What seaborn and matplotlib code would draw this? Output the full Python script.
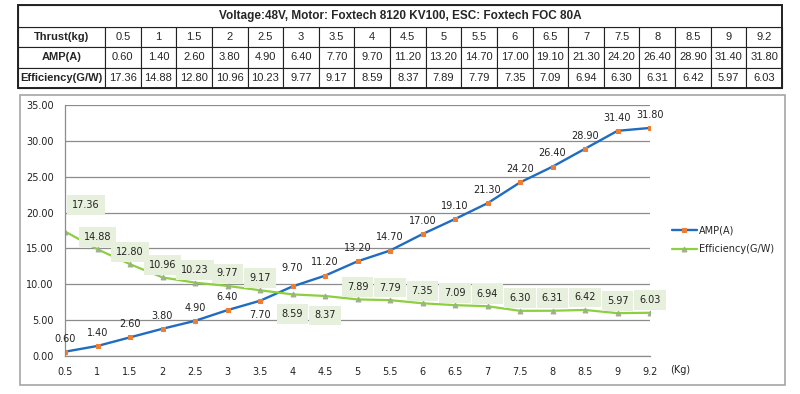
import matplotlib
matplotlib.use("Agg")
import matplotlib.pyplot as plt
import numpy as np
import pandas as pd
import seaborn as sns
from matplotlib.patches import Rectangle


TITLE = "Voltage:48V, Motor: Foxtech 8120 KV100, ESC: Foxtech FOC 80A"
THRUST = ["0.5", "1", "1.5", "2", "2.5", "3", "3.5", "4", "4.5", "5",
          "5.5", "6", "6.5", "7", "7.5", "8", "8.5", "9", "9.2"]
AMP = [0.60, 1.40, 2.60, 3.80, 4.90, 6.40, 7.70, 9.70, 11.20, 13.20,
       14.70, 17.00, 19.10, 21.30, 24.20, 26.40, 28.90, 31.40, 31.80]
EFFICIENCY = [17.36, 14.88, 12.80, 10.96, 10.23, 9.77, 9.17, 8.59, 8.37, 7.89,
              7.79, 7.35, 7.09, 6.94, 6.30, 6.31, 6.42, 5.97, 6.03]
Y_TICKS = [0, 5, 10, 15, 20, 25, 30, 35]

AMP_COLOR = "#1f6cc0"
AMP_MARKER = "#ed7d31"
EFF_COLOR = "#8ccf3f"
EFF_MARKER = "#9db08a"
LABEL_BG = "#e6f0dc"
GRID = "#8c8c8c"

# label offsets in points (dx, dy); anything not listed sits just above its point
AMP_OFFSETS = {"3.5": (0, -10), "4": (0, 13)}
EFF_OFFSETS = {"0.5": (15, 19), "4": (0, -14), "4.5": (0, -14)}


def draw_table(fig):
    ax = fig.add_axes([18 / 800, 1 - 88 / 394, 764 / 800, 83 / 394])
    ax.set_axis_off()
    body_h = 61 / 83
    rows = [
        ["Thrust(kg)"] + THRUST,
        ["AMP(A)"] + [f"{v:.2f}" for v in AMP],
        ["Efficiency(G/W)"] + [f"{v:.2f}" for v in EFFICIENCY],
    ]
    first_w = 87 / 764
    col_w = (1 - first_w) / len(THRUST)
    table = ax.table(cellText=rows, colWidths=[first_w] + [col_w] * len(THRUST),
                     cellLoc="center", bbox=[0, 0, 1, body_h])
    table.auto_set_font_size(False)
    for (r, c), cell in table.get_celld().items():
        cell.set_linewidth(0.8)
        cell.set_edgecolor("#222222")
        cell.get_text().set_fontsize(8)
        cell.get_text().set_family("Liberation Sans")
        if c == 0:
            cell.get_text().set_fontweight("bold")
    ax.add_patch(Rectangle((0, body_h), 1, 1 - body_h, transform=ax.transAxes,
                           facecolor="white", edgecolor="#222222", linewidth=0.8))
    ax.text(0.5, (1 + body_h) / 2, TITLE, transform=ax.transAxes, ha="center", va="center",
            fontsize=8.5, fontweight="bold", family="Liberation Sans")
    ax.add_patch(Rectangle((0, 0), 1, 1, transform=ax.transAxes, fill=False,
                           edgecolor="#222222", linewidth=1.4, clip_on=False))


def main():
    sns.set_theme(style="white")
    plt.rcParams["font.family"] = ["DejaVu Sans"]

    fig = plt.figure(figsize=(8, 3.94), dpi=100)
    fig.patches.append(Rectangle((20 / 800, 1 - 385 / 394), 765 / 800, 290 / 394,
                                 transform=fig.transFigure, fill=False,
                                 edgecolor="#a6a6a6", linewidth=1.2))
    draw_table(fig)

    df = pd.DataFrame({"pos": np.arange(len(THRUST)), "thrust": THRUST,
                       "AMP(A)": AMP, "Efficiency(G/W)": EFFICIENCY})

    ax = fig.add_axes([65 / 800, 1 - 356 / 394, 585 / 800, 251 / 394])
    sns.lineplot(data=df, x="pos", y="AMP(A)", ax=ax, color=AMP_COLOR, linewidth=1.7,
                 marker="s", markersize=3.5, markerfacecolor=AMP_MARKER,
                 markeredgecolor=AMP_MARKER, sort=False, label="AMP(A)")
    sns.lineplot(data=df, x="pos", y="Efficiency(G/W)", ax=ax, color=EFF_COLOR, linewidth=1.6,
                 marker="^", markersize=3.5, markerfacecolor=EFF_MARKER,
                 markeredgecolor=EFF_MARKER, sort=False, label="Efficiency(G/W)")

    for pos, t, a, e in zip(df["pos"], THRUST, AMP, EFFICIENCY):
        dx, dy = AMP_OFFSETS.get(t, (0, 9.5))
        ax.annotate(f"{a:.2f}", (pos, a), xytext=(dx, dy), textcoords="offset points",
                    ha="center", va="center", fontsize=7, color="#222222")
        dx, dy = EFF_OFFSETS.get(t, (0, 9))
        ax.annotate(f"{e:.2f}", (pos, e), xytext=(dx, dy), textcoords="offset points",
                    ha="center", va="center", fontsize=7, color="#222222",
                    bbox=dict(boxstyle="square,pad=0.5", facecolor=LABEL_BG, edgecolor="none"))

    ax.set_xlim(0, len(THRUST) - 1)
    ax.set_ylim(0, 35)
    ax.set_xticks(df["pos"])
    ax.set_xticklabels(THRUST)
    ax.set_yticks(Y_TICKS)
    ax.set_yticklabels([f"{v:.2f}" for v in Y_TICKS])
    ax.set_xlabel("")
    ax.set_ylabel("")
    ax.tick_params(axis="both", labelsize=7, colors="#222222", length=3, width=0.8,
                   direction="out", pad=5)
    ax.tick_params(axis="both", color=GRID)
    ax.yaxis.grid(True, color=GRID, linewidth=0.9)
    ax.set_axisbelow(True)
    for side in ["top", "right"]:
        ax.spines[side].set_visible(False)
    for side in ["left", "bottom"]:
        ax.spines[side].set_color(GRID)
        ax.spines[side].set_linewidth(0.9)

    ax.text(680 / 800, 1 - 370 / 394, "(Kg)", transform=fig.transFigure, ha="center",
            va="center", fontsize=7, color="#222222")

    handles, labels = ax.get_legend_handles_labels()
    ax.legend_.remove()
    fig.legend(handles, labels, loc="center left", bbox_to_anchor=(663 / 800, 1 - 240 / 394),
               frameon=False, fontsize=7, handlelength=2.6, handletextpad=0.2,
               labelspacing=0.9)

    fig.savefig("out.png", dpi=100)
    plt.close(fig)


if __name__ == "__main__":
    main()
